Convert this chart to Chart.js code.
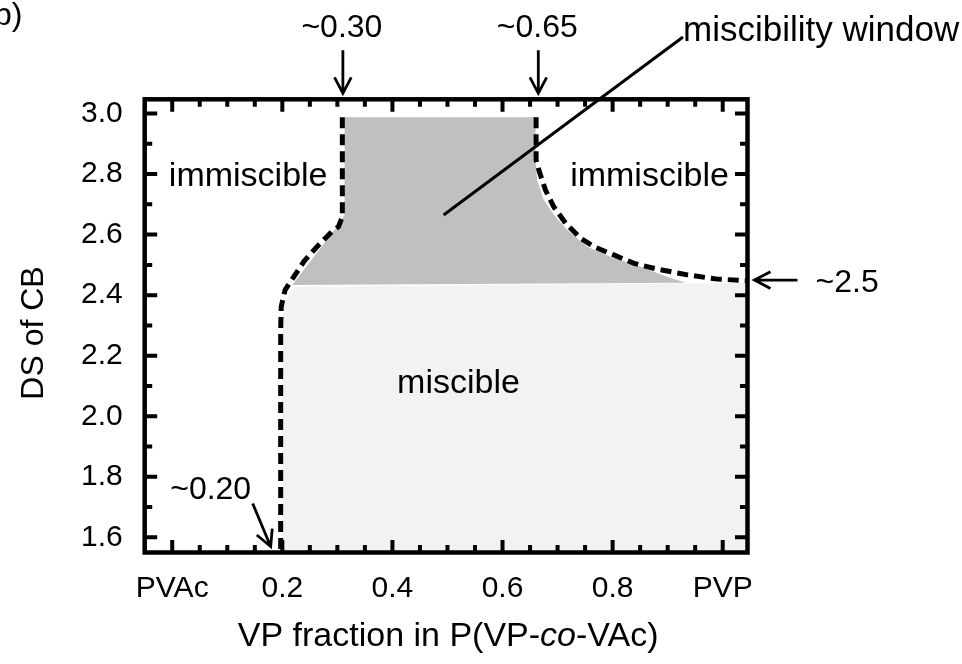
<!DOCTYPE html>
<html><head><meta charset="utf-8">
<script src="https://cdn.jsdelivr.net/npm/chart.js@4.4.1/dist/chart.umd.min.js"></script>
<style>html,body{margin:0;padding:0;background:#fff;}#wrap{width:962px;height:664px;position:relative;}</style>
</head><body><div id="wrap"><canvas id="c" width="962" height="664"></canvas></div>
<script>
// ---------------- data ----------------
const xTickValues = [0, 0.2, 0.4, 0.6, 0.8, 1.0];
const xTickLabels = ['PVAc', '0.2', '0.4', '0.6', '0.8', 'PVP'];
const yTickValues = [1.6, 1.8, 2.0, 2.2, 2.4, 2.6, 2.8, 3.0];
const yTickLabels = ['1.6', '1.8', '2.0', '2.2', '2.4', '2.6', '2.8', '3.0'];

// miscible region (light grey): upper boundary
const miscibleX = [0.200, 0.200, 0.202, 0.212, 0.224, 1.06];
const miscibleY = [1.50, 2.285, 2.362, 2.406, 2.428, 2.440];

// miscibility window (dark grey) polygon
const windowX = [0.313, 0.660, 0.660, 0.663, 0.675, 0.696, 0.718, 0.754, 0.796, 0.851, 0.899, 0.933, 0.218, 0.305, 0.313];
const windowY = [2.988, 2.988, 2.846, 2.780, 2.714, 2.659, 2.615, 2.560, 2.527, 2.494, 2.461, 2.441, 2.434, 2.640, 2.665];

// left dashed boundary
const leftBoundX = [0.309, 0.309, 0.302, 0.290, 0.263, 0.239, 0.221, 0.205, 0.198, 0.197, 0.197];
const leftBoundY = [2.988, 2.659, 2.626, 2.610, 2.560, 2.511, 2.461, 2.417, 2.362, 2.285, 1.50];

// right dashed boundary
const rightBoundX = [0.661, 0.661, 0.666, 0.678, 0.693, 0.715, 0.742, 0.766, 0.802, 0.839, 0.881, 0.936, 0.990, 1.06];
const rightBoundY = [2.988, 2.846, 2.813, 2.747, 2.692, 2.637, 2.588, 2.560, 2.533, 2.505, 2.486, 2.467, 2.453, 2.447];

// annotation texts (anchors in data units)
const regionLabels = ['immiscible', 'immiscible', 'miscible'];
const regionLabelX = [0.138, 0.867, 0.52];
const regionLabelY = [2.759, 2.759, 2.077];

const markerTexts = ['~0.30', '~0.65', '~2.5', '~0.20'];
const markerValues = [0.31, 0.665, 2.45, 0.197];

// ---------------- chart ----------------
const FONT = "'Liberation Sans', Arial, sans-serif";
const pts = (xs, ys) => xs.map((x, i) => ({x: x, y: ys[i]}));
const AREA = {left: 144.7, right: 747.5, top: 99.3, bottom: 552.5};

function arrow(ctx, x1, y1, x2, y2) {
  const a = Math.atan2(y2 - y1, x2 - x1), h = 18, s = Math.PI / 6.5;
  ctx.beginPath();
  ctx.moveTo(x1, y1); ctx.lineTo(x2, y2);
  ctx.moveTo(x2 - h * Math.cos(a - s), y2 - h * Math.sin(a - s));
  ctx.lineTo(x2, y2);
  ctx.lineTo(x2 - h * Math.cos(a + s), y2 - h * Math.sin(a + s));
  ctx.stroke();
}

const decor = {
  id: 'decor',
  afterDraw(chart) {
    const ctx = chart.ctx, a = chart.chartArea;
    const xs = chart.scales.x, ys = chart.scales.y;
    ctx.save();
    ctx.strokeStyle = '#000'; ctx.fillStyle = '#000';
    // ticks (inward, all four sides)
    ctx.lineWidth = 4; ctx.lineCap = 'butt';
    ctx.beginPath();
    for (let k = 0; k <= 20; k++) {
      const v = k * 0.05, px = xs.getPixelForValue(v);
      const L = (k % 4 === 0) ? 12.5 : 7.5;
      ctx.moveTo(px, a.bottom); ctx.lineTo(px, a.bottom - L);
      ctx.moveTo(px, a.top); ctx.lineTo(px, a.top + L);
    }
    for (let k = 0; k <= 14; k++) {
      const v = 1.6 + k * 0.1, py = ys.getPixelForValue(v);
      const L = (k % 2 === 0) ? 12.5 : 7.5;
      ctx.moveTo(a.left, py); ctx.lineTo(a.left + L, py);
      ctx.moveTo(a.right, py); ctx.lineTo(a.right - L, py);
    }
    ctx.stroke();
    // frame
    ctx.lineWidth = 4.5; ctx.lineJoin = 'miter';
    ctx.strokeRect(a.left, a.top, a.right - a.left, a.bottom - a.top);

    // region labels
    ctx.font = '34px ' + FONT; ctx.textAlign = 'center'; ctx.textBaseline = 'alphabetic';
    regionLabels.forEach((t, i) => ctx.fillText(t, xs.getPixelForValue(regionLabelX[i]), ys.getPixelForValue(regionLabelY[i])));

    // marker arrows + texts
    ctx.lineWidth = 2.8; ctx.lineCap = 'butt';
    ctx.font = '32px ' + FONT;
    // ~0.30 and ~0.65 (top)
    [0, 1].forEach(i => {
      const px = xs.getPixelForValue(markerValues[i]);
      arrow(ctx, px, a.top - 49, px, a.top - 6);
      ctx.textAlign = 'center';
      ctx.fillText(markerTexts[i], px - 1, a.top - 62);
    });
    // ~2.5 (right)
    {
      const py = ys.getPixelForValue(markerValues[2]);
      arrow(ctx, a.right + 50, py, a.right + 7, py);
      ctx.textAlign = 'left';
      ctx.fillText(markerTexts[2], a.right + 68, py + 11.5);
    }
    // ~0.20 (bottom left)
    {
      const px = xs.getPixelForValue(markerValues[3]);
      arrow(ctx, px - 28, a.bottom - 49, px - 10, a.bottom - 6);
      ctx.textAlign = 'center';
      ctx.fillText(markerTexts[3], px - 70, a.bottom - 54);
    }
    // miscibility window pointer
    ctx.lineWidth = 3;
    ctx.beginPath();
    ctx.moveTo(xs.getPixelForValue(0.493), ys.getPixelForValue(2.665));
    ctx.lineTo(683, 37);
    ctx.stroke();
    ctx.font = '35px ' + FONT; ctx.textAlign = 'left';
    ctx.fillText('miscibility window', 683, 41);

    // panel letter
    ctx.font = '32px ' + FONT;
    ctx.fillText('b)', -6, 25);

    // x title with italic "co"
    const parts = [['VP fraction in P(VP-', ''], ['co', 'italic '], ['-VAc)', '']];
    let total = 0;
    parts.forEach(p => { ctx.font = p[1] + '34px ' + FONT; total += ctx.measureText(p[0]).width; });
    let cx = (a.left + a.right) / 2 + 2 - total / 2;
    ctx.textAlign = 'left';
    parts.forEach(p => { ctx.font = p[1] + '34px ' + FONT; ctx.fillText(p[0], cx, 646); cx += ctx.measureText(p[0]).width; });

    // y title
    ctx.translate(43, 333);
    ctx.rotate(-Math.PI / 2);
    ctx.font = '32px ' + FONT; ctx.textAlign = 'center';
    ctx.fillText('DS of CB', 0, 0);
    ctx.restore();
  }
};

new Chart(document.getElementById('c'), {
  type: 'scatter',
  data: {
    datasets: [
      {label: 'left boundary', data: pts(leftBoundX, leftBoundY), showLine: true, fill: false,
       borderColor: '#000', borderWidth: 5, borderDash: [11, 6], pointRadius: 0, tension: 0, order: 1},
      {label: 'right boundary', data: pts(rightBoundX, rightBoundY), showLine: true, fill: false,
       borderColor: '#000', borderWidth: 5, borderDash: [11, 6], pointRadius: 0, tension: 0, order: 1},
      {label: 'miscibility window', data: pts(windowX, windowY), showLine: true, fill: 'shape',
       backgroundColor: '#c0c0c0', borderColor: 'rgba(0,0,0,0)', borderWidth: 0, pointRadius: 0, tension: 0, order: 2},
      {label: 'miscible', data: pts(miscibleX, miscibleY), showLine: true, fill: 'start',
       backgroundColor: '#f2f2f2', borderColor: 'rgba(0,0,0,0)', borderWidth: 0, pointRadius: 0, tension: 0, order: 3}
    ]
  },
  options: {
    responsive: false, animation: false, devicePixelRatio: 1,
    layout: {padding: {left: 0, top: AREA.top, right: 962 - AREA.right, bottom: 0}},
    plugins: {legend: {display: false}, tooltip: {enabled: false}},
    scales: {
      x: {
        type: 'linear', position: 'bottom', min: -0.05, max: 1.045,
        afterBuildTicks: s => { s.ticks = xTickValues.map(v => ({value: v})); },
        afterFit: s => { s.height = 664 - AREA.bottom; },
        grid: {display: false, drawTicks: false}, border: {display: false},
        ticks: {autoSkip: false, maxRotation: 0, padding: 18, color: '#000',
                font: {family: FONT, size: 30}, callback: (v, i) => xTickLabels[i]}
      },
      y: {
        type: 'linear', position: 'left', min: 1.55, max: 3.047,
        afterBuildTicks: s => { s.ticks = yTickValues.map(v => ({value: v})); },
        afterFit: s => { s.width = AREA.left; },
        grid: {display: false, drawTicks: false}, border: {display: false},
        ticks: {autoSkip: false, padding: 22, color: '#000',
                font: {family: FONT, size: 30}, callback: (v, i) => yTickLabels[i]}
      }
    }
  },
  plugins: [decor]
});
</script></body></html>
